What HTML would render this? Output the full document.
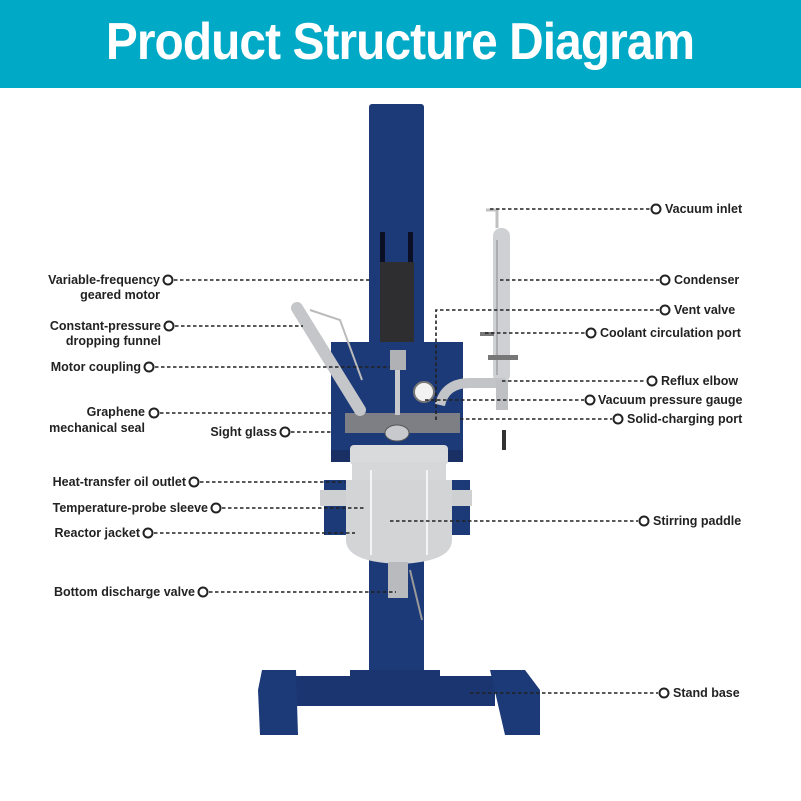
<!DOCTYPE html>
<html><head><meta charset="utf-8"><style>
html,body{margin:0;padding:0;background:#fff;}
svg{display:block;}
text{font-family:"Liberation Sans",Arial,sans-serif;font-size:12.5px;font-weight:bold;fill:#222;}
.l{stroke:#222;stroke-width:1.6;stroke-dasharray:3.5 2.5;fill:none;}
.c{fill:#fff;stroke:#222;stroke-width:2;}
</style></head><body>
<svg width="801" height="801" viewBox="0 0 801 801">
<rect x="0" y="0" width="801" height="88" fill="#00a9c6"/>
<text x="400" y="59" text-anchor="middle" transform="translate(400 0) scale(0.92 1) translate(-400 0)" style="font-size:52px;fill:#fff;font-weight:bold;letter-spacing:-1px">Product Structure Diagram</text>

<!-- stand -->
<rect x="369" y="104" width="55" height="580" rx="3" fill="#1c3a78"/>
<rect x="380" y="232" width="5" height="30" fill="#0a0f25"/>
<rect x="408" y="232" width="5" height="30" fill="#0a0f25"/>
<rect x="380" y="262" width="34" height="80" fill="#2e2e30"/>
<rect x="295" y="676" width="200" height="30" fill="#1a3570"/>
<rect x="350" y="670" width="90" height="10" fill="#1a3570"/>
<path d="M262 670 L296 670 L298 735 L260 735 L258 690 Z" fill="#1c3a78"/>
<path d="M490 670 L525 670 L540 690 L540 735 L505 735 Z" fill="#1c3a78"/>
<!-- frame -->
<rect x="331" y="342" width="132" height="110" fill="#1c3a78"/>
<rect x="331" y="450" width="132" height="12" fill="#1a3065"/>
<!-- jacket bands -->
<rect x="324" y="480" width="146" height="55" fill="#1c3a78"/>
<rect x="320" y="490" width="152" height="16" fill="#cfd0d2"/>
<!-- vessel -->
<rect x="350" y="445" width="98" height="20" rx="4" fill="#d9dadc"/>
<rect x="352" y="462" width="94" height="40" fill="#d6d7d9"/>
<path d="M346 480 L452 480 L452 540 Q452 562 399 564 Q346 562 346 540 Z" fill="#d3d4d6"/>
<line x1="371" y1="470" x2="371" y2="555" stroke="#f4f4f4" stroke-width="2"/>
<line x1="427" y1="470" x2="427" y2="555" stroke="#f4f4f4" stroke-width="2"/>
<rect x="388" y="562" width="20" height="36" fill="#b9babd"/>
<line x1="410" y1="570" x2="422" y2="620" stroke="#999" stroke-width="2"/>
<!-- lid parts -->
<rect x="345" y="413" width="115" height="20" fill="#7d7f84"/>
<ellipse cx="397" cy="433" rx="12" ry="8" fill="#c8c9cc" stroke="#555"/>
<rect x="395" y="370" width="5" height="45" fill="#c8c9cc"/>
<rect x="390" y="350" width="16" height="20" fill="#b0b1b4"/>
<circle cx="424" cy="392" r="10" fill="#f2f2f2" stroke="#777" stroke-width="2"/>
<!-- funnel -->
<line x1="297" y1="308" x2="360" y2="410" stroke="#c5c6c9" stroke-width="12" stroke-linecap="round"/>
<path d="M310 310 L340 320 L362 380" stroke="#bbb" stroke-width="2" fill="none"/>
<!-- condenser -->
<rect x="493" y="228" width="17" height="155" rx="8" fill="#cfd0d3"/>
<line x1="497" y1="240" x2="497" y2="375" stroke="#888" stroke-width="1"/>
<path d="M486 210 L497 210 L497 228" stroke="#c0c0c3" stroke-width="3" fill="none"/>
<rect x="480" y="332" width="14" height="4" fill="#777"/>
<rect x="488" y="355" width="30" height="5" fill="#777"/>
<path d="M440 405 Q445 383 470 383 L505 383" stroke="#c3c4c7" stroke-width="10" fill="none"/>
<rect x="496" y="380" width="12" height="30" fill="#bfc0c3"/>
<rect x="502" y="430" width="4" height="20" fill="#333"/>

<!-- left leaders -->
<path class="l" d="M174 280 H372"/><circle class="c" cx="168" cy="280" r="4.5"/>
<path class="l" d="M175 326 H303"/><circle class="c" cx="169" cy="326" r="4.5"/>
<path class="l" d="M155 367 H390"/><circle class="c" cx="149" cy="367" r="4.5"/>
<path class="l" d="M160 413 H332"/><circle class="c" cx="154" cy="413" r="4.5"/>
<path class="l" d="M291 432 H333"/><circle class="c" cx="285" cy="432" r="4.5"/>
<path class="l" d="M200 482 H345"/><circle class="c" cx="194" cy="482" r="4.5"/>
<path class="l" d="M222 508 H366"/><circle class="c" cx="216" cy="508" r="4.5"/>
<path class="l" d="M154 533 H355"/><circle class="c" cx="148" cy="533" r="4.5"/>
<path class="l" d="M209 592 H396"/><circle class="c" cx="203" cy="592" r="4.5"/>
<!-- right leaders -->
<path class="l" d="M490 209 H650"/><circle class="c" cx="656" cy="209" r="4.5"/>
<path class="l" d="M500 280 H659"/><circle class="c" cx="665" cy="280" r="4.5"/>
<path class="l" d="M436 420 V310 H659"/><circle class="c" cx="665" cy="310" r="4.5"/>
<path class="l" d="M485 333 H585"/><circle class="c" cx="591" cy="333" r="4.5"/>
<path class="l" d="M502 381 H646"/><circle class="c" cx="652" cy="381" r="4.5"/>
<path class="l" d="M425 400 H584"/><circle class="c" cx="590" cy="400" r="4.5"/>
<path class="l" d="M460 419 H612"/><circle class="c" cx="618" cy="419" r="4.5"/>
<path class="l" d="M390 521 H638"/><circle class="c" cx="644" cy="521" r="4.5"/>
<path class="l" d="M470 693 H658"/><circle class="c" cx="664" cy="693" r="4.5"/>

<!-- left labels -->
<g text-anchor="end">
<text x="160" y="284">Variable-frequency</text>
<text x="160" y="299">geared motor</text>
<text x="161" y="330">Constant-pressure</text>
<text x="161" y="345">dropping funnel</text>
<text x="141" y="371">Motor coupling</text>
<text x="145" y="416">Graphene</text>
<text x="145" y="432">mechanical seal</text>
<text x="277" y="436">Sight glass</text>
<text x="186" y="486">Heat-transfer oil outlet</text>
<text x="208" y="512">Temperature-probe sleeve</text>
<text x="140" y="537">Reactor jacket</text>
<text x="195" y="596">Bottom discharge valve</text>
</g>
<!-- right labels -->
<text x="665" y="213">Vacuum inlet</text>
<text x="674" y="284">Condenser</text>
<text x="674" y="314">Vent valve</text>
<text x="600" y="337">Coolant circulation port</text>
<text x="661" y="385">Reflux elbow</text>
<text x="598" y="404">Vacuum pressure gauge</text>
<text x="627" y="423">Solid-charging port</text>
<text x="653" y="525">Stirring paddle</text>
<text x="673" y="697">Stand base</text>
</svg>
</body></html>
